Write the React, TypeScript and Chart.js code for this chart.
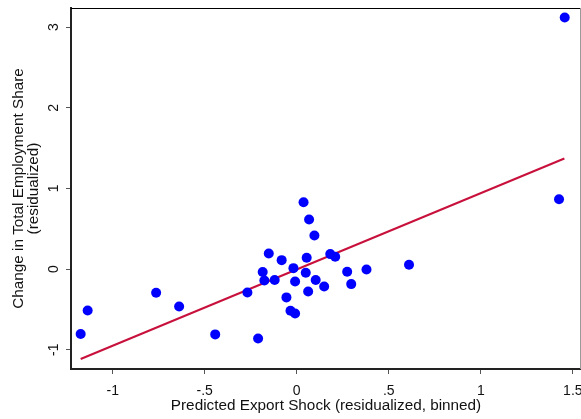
import React, { useEffect, useRef } from "react";
import { Chart, registerables } from "chart.js";

Chart.register(...registerables);

// Binned scatter points (predicted export shock, change in total employment share)
const POINT_X = [
  -1.174, -1.136, -0.764, -0.639, -0.443, -0.268, -0.21,
  0.037, 0.067, 0.096, -0.152, -0.082, 0.054, 0.182, 0.209,
  -0.185, -0.018, 0.049, 0.274, 0.379, -0.176, -0.12, -0.009,
  0.103, 0.149, 0.296, 0.062, -0.056, -0.034, -0.009, 0.61,
  1.425, 1.456,
];
const POINT_Y = [
  -0.805, -0.513, -0.294, -0.463, -0.81, -0.29, -0.86,
  0.83, 0.615, 0.417, 0.193, 0.111, 0.14, 0.186, 0.152,
  -0.037, 0.012, -0.046, -0.033, -0.005, -0.141, -0.136, -0.154,
  -0.136, -0.215, -0.186, -0.277, -0.351, -0.517, -0.55, 0.053,
  0.867, 3.12,
];

// Linear fit line endpoints
const FIT_X = [-1.174, 1.454];
const FIT_Y = [-1.115, 1.371];

const X_TICKS = [-1, -0.5, 0, 0.5, 1, 1.5];
const Y_TICKS = [-1, 0, 1, 2, 3];

const X_TITLE = "Predicted Export Shock (residualized, binned)";
const Y_TITLE = ["Change in Total Employment Share", "(residualized)"];

const FONT = "'Liberation Sans', Arial, Helvetica, sans-serif";

function fmt(v: number): string {
  const s = String(Math.round(v * 100) / 100);
  return s.replace(/^(-?)0\./, "$1.");
}

const framePlugin = {
  id: "frame",
  afterDraw(chart: any) {
    const { ctx, chartArea } = chart;
    ctx.save();
    ctx.strokeStyle = "#000";
    ctx.lineWidth = 1;
    ctx.beginPath();
    ctx.moveTo(chartArea.left, chartArea.top + 0.5);
    ctx.lineTo(chartArea.right, chartArea.top + 0.5);
    ctx.stroke();
    ctx.strokeStyle = "#9a9a9a";
    ctx.beginPath();
    ctx.moveTo(chartArea.right - 0.5, chartArea.top);
    ctx.lineTo(chartArea.right - 0.5, chartArea.bottom);
    ctx.stroke();
    ctx.restore();
  },
};

export default function App() {
  const ref = useRef<HTMLCanvasElement | null>(null);

  useEffect(() => {
    document.body.style.margin = "0";
    const canvas = ref.current;
    if (!canvas) return;
    const chart = new Chart(canvas, {
      type: "scatter",
      data: {
        datasets: [
          {
            label: "bins",
            data: POINT_X.map((x, i) => ({ x, y: POINT_Y[i] })),
            backgroundColor: "#0000ff",
            borderWidth: 0,
            pointRadius: 5,
            pointHoverRadius: 5,
          },
          {
            type: "line",
            label: "fit",
            data: FIT_X.map((x, i) => ({ x, y: FIT_Y[i] })),
            borderColor: "#c8103c",
            borderWidth: 2,
            pointRadius: 0,
            fill: false,
          } as any,
        ],
      },
      options: {
        responsive: false,
        animation: false,
        events: [],
        layout: { autoPadding: false, padding: { top: 8, right: 0, left: 0, bottom: 0 } },
        plugins: {
          legend: { display: false },
          tooltip: { enabled: false },
        },
        scales: {
          x: {
            type: "linear",
            min: -1.2265,
            max: 1.5444,
            afterFit(scale: any) {
              scale.height = 50;
              scale.paddingLeft = 0;
              scale.paddingRight = 0;
            },
            afterBuildTicks(scale: any) {
              scale.ticks = X_TICKS.map((v) => ({ value: v }));
            },
            ticks: {
              callback: (v: any) => fmt(Number(v)),
              font: { family: FONT, size: 14 },
              color: "#111",
              padding: 9,
              maxRotation: 0,
              autoSkip: false,
            },
            grid: {
              drawOnChartArea: false,
              drawTicks: true,
              tickLength: 5,
              tickColor: "#555",
            },
            border: { display: true, color: "#222", width: 2 },
            title: {
              display: true,
              text: X_TITLE,
              font: { family: FONT, size: 15.3, lineHeight: 1 },
              color: "#111",
              padding: { top: 0, bottom: 6 },
            },
          },
          y: {
            type: "linear",
            min: -1.239,
            max: 3.238,
            afterFit(scale: any) {
              scale.width = 71;
              scale.paddingTop = 0;
              scale.paddingBottom = 0;
            },
            afterBuildTicks(scale: any) {
              scale.ticks = Y_TICKS.map((v) => ({ value: v }));
            },
            ticks: {
              callback: (v: any) => fmt(Number(v)),
              font: { family: FONT, size: 14 },
              color: "#111",
              padding: 6,
              minRotation: 90,
              maxRotation: 90,
              crossAlign: "center",
              autoSkip: false,
            },
            grid: {
              drawOnChartArea: false,
              drawTicks: true,
              tickLength: 5,
              tickColor: "#555",
            },
            border: { display: true, color: "#222", width: 2 },
            title: {
              display: true,
              text: Y_TITLE,
              font: { family: FONT, size: 15.3, lineHeight: 1 },
              color: "#111",
              padding: { top: 11, bottom: 0 },
            },
          },
        },
      },
      plugins: [framePlugin],
    });
    return () => chart.destroy();
  }, []);

  return (
    <div style={{ position: "fixed", left: 0, top: 0, width: 581, height: 419, background: "#fff" }}>
      <canvas ref={ref} width={581} height={419} style={{ display: "block" }} />
    </div>
  );
}
